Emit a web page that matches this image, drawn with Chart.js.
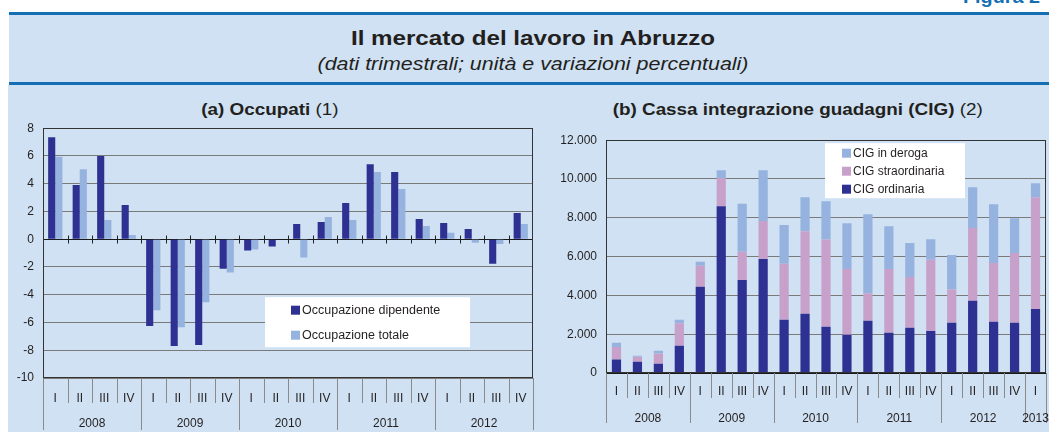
<!DOCTYPE html>
<html>
<head>
<meta charset="utf-8">
<script src="https://cdn.jsdelivr.net/npm/chart.js@4.4.1/dist/chart.umd.min.js"></script>
<style>
    body { margin: 0; width: 1049px; height: 432px; overflow: hidden; background: #fff;
           font-family: "Liberation Sans", Arial, sans-serif; color: #231f20; position: relative; }
    .rule { position: absolute; left: 9px; right: 0; height: 3px; background: #1470b2; }
    .band { position: absolute; background: #cfe1f2; }
    .figura { position: absolute; left: 963px; top: -13px; font-weight: bold; font-size: 18px; color: #1470b2;
              transform: scaleX(1.1); transform-origin: left top; white-space: nowrap; }
    .title { position: absolute; left: 17px; right: 0; text-align: center; }
    .panel-title { position: absolute; top: 99px; height: 22px; line-height: 22px; text-align: center; font-size: 17px; }
    .panel-title span { display: inline-block; transform: scaleX(1.11); }
    canvas { position: absolute; }
</style>
</head>
<body>
<div class="figura">Figura 2</div>
<div class="rule" style="top:12px"></div>
<div class="band" style="left:9px;right:0;top:15px;height:67px"></div>
<div class="rule" style="top:82px"></div>
<div class="band" style="left:8px;right:0;top:85px;bottom:0"></div>
<div class="title" style="top:26px;font-size:21px;font-weight:bold;transform:scaleX(1.15)">Il mercato del lavoro in Abruzzo</div>
<div class="title" style="top:54px;font-size:18px;font-style:italic;transform:scaleX(1.19)">(dati trimestrali; unità e variazioni percentuali)</div>
<div class="panel-title" style="left:8px;width:524px"><span><b>(a) Occupati</b> (1)</span></div>
<div class="panel-title" style="left:531px;width:534px"><span><b>(b) Cassa integrazione guadagni (CIG)</b> (2)</span></div>
<canvas id="occupatiChart" width="536" height="320" style="left:0;top:112px"></canvas>
<canvas id="cigChart" width="518" height="308" style="left:531px;top:124px"></canvas>
<script>
// (a) Occupati - variazioni percentuali
const quarterLabelsA = ['I', 'II', 'III', 'IV', 'I', 'II', 'III', 'IV', 'I', 'II', 'III', 'IV',
    'I', 'II', 'III', 'IV', 'I', 'II', 'III', 'IV'];
const yearLabelsA = ['2008', '2009', '2010', '2011', '2012'];
const occDipendente = [7.35, 3.9, 6.0, 2.47, -6.26, -7.69, -7.62, -2.13, -0.81, -0.53, 1.1, 1.25,
    2.61, 5.41, 4.84, 1.46, 1.17, 0.74, -1.77, 1.89];
const occTotale = [5.94, 5.05, 1.39, 0.31, -5.12, -6.34, -4.55, -2.4, -0.74, 0, -1.32, 1.6,
    1.39, 4.84, 3.62, 0.96, 0.46, -0.26, -0.34, 1.1];

// (b) CIG - unità
const quarterLabelsB = [...quarterLabelsA, 'I'];
const yearLabelsB = [...yearLabelsA, '2013'];
const cigOrdinaria = [690, 580, 480, 1410, 4440, 8600, 4800, 5880, 2740, 3050, 2380, 1970,
    2690, 2070, 2330, 2170, 2590, 3720, 2640, 2590, 3300];
const cigStraordinaria = [650, 260, 530, 1160, 1090, 1450, 1450, 1950, 2890, 4260, 4500, 3390,
    1420, 3290, 2620, 3670, 1710, 3760, 3030, 3590, 5760];
const cigDeroga = [220, 50, 140, 170, 200, 400, 2470, 2620, 2000, 1750, 1970, 2360,
    4070, 2210, 1750, 1060, 1780, 2090, 3030, 1800, 720];

const NAVY = '#2e3192';
const SKY = '#95b3de';
const PINK = '#c8a1cb';
const GRID = '#7a7a7a';

Chart.defaults.font.family = '"Liberation Sans", Arial, sans-serif';
Chart.defaults.font.size = 12;
Chart.defaults.color = '#231f20';

const fmtThousands = v => String(v).replace(/\B(?=(\d{3})+(?!\d))/g, '.');

// frame, axis boxes, year row and in-plot legend
const panelDecor = {
    id: 'panelDecor',
    afterDatasetsDraw(chart, args, opts) {
        const { ctx, chartArea: a, scales: { x, y } } = chart;
        const n = chart.data.labels.length;
        const cw = (a.right - a.left) / n;
        const edge = i => Math.round(x.getPixelForValue(Math.min(i, n - 1)) + (i >= n ? cw / 2 : -cw / 2)) + 0.5;
        ctx.save();
        ctx.lineWidth = 1;

        if (opts.zeroTicks) {
            const y0 = Math.round(y.getPixelForValue(0)) + 0.5;
            ctx.strokeStyle = '#222';
            ctx.beginPath();
            for (let i = 1; i < n; i++) {
                ctx.moveTo(edge(i), y0 - 4);
                ctx.lineTo(edge(i), y0 + 4);
            }
            ctx.stroke();
        }

        // legend box
        const lg = opts.legend;
        const bx = a.left + lg.x, by = a.top + lg.y;
        ctx.fillStyle = '#fff';
        ctx.fillRect(bx, by, lg.w, lg.h);
        ctx.font = lg.size + 'px "Liberation Sans", Arial, sans-serif';
        ctx.textBaseline = 'middle';
        ctx.textAlign = 'left';
        lg.order.forEach((di, k) => {
            const ds = chart.data.datasets[di];
            const cy = by + lg.first + k * lg.step;
            ctx.fillStyle = ds.backgroundColor;
            ctx.fillRect(bx + lg.sq, cy - 4.5, 9, 9);
            ctx.fillStyle = '#231f20';
            ctx.fillText(ds.label, bx + lg.sq + 11, cy + 0.5);
        });

        // plot frame
        ctx.strokeStyle = '#333';
        ctx.strokeRect(Math.round(a.left) + 0.5, Math.round(a.top) + 0.5,
            Math.round(a.right - a.left) - 1, Math.round(a.bottom - a.top) - 1);

        // separators under the plot
        ctx.strokeStyle = '#8a8a8a';
        ctx.beginPath();
        for (let i = 0; i <= n; i++) {
            const len = (i % 4 === 0 || i === n) ? opts.yearLen : opts.quarterLen;
            ctx.moveTo(edge(i), a.bottom);
            ctx.lineTo(edge(i), a.bottom + len);
        }
        ctx.stroke();

        // year row
        ctx.fillStyle = '#231f20';
        ctx.font = '12px "Liberation Sans", Arial, sans-serif';
        ctx.textAlign = 'center';
        opts.years.forEach((yr, k) => {
            const s = 4 * k, e = Math.min(s + 4, n) - 1;
            const cx = (x.getPixelForValue(s) + x.getPixelForValue(e)) / 2;
            ctx.fillText(yr, cx, a.bottom + opts.yearY);
        });
        ctx.restore();
    }
};

const baseScales = (yWidth, xHeight, xPad) => ({
    x: {
        grid: { display: false },
        border: { display: false },
        ticks: { padding: xPad, maxRotation: 0, autoSkip: false },
        afterFit: s => { s.height = xHeight; }
    },
    y: {
        border: { display: false },
        grid: { drawTicks: false, color: c => c.tick.value === 0 ? '#1a1a1a' : GRID },
        ticks: { padding: 9 },
        afterFit: s => { s.width = yWidth; }
    }
});

const initOccupatiChart = () => {
    const scales = baseScales(43, 54, 5);
    Object.assign(scales.y, { min: -10, max: 8 });
    scales.y.ticks.stepSize = 2;
    new Chart(document.getElementById('occupatiChart'), {
        type: 'bar',
        data: {
            labels: quarterLabelsA,
            datasets: [
                { label: 'Occupazione dipendente', data: occDipendente, backgroundColor: NAVY },
                { label: 'Occupazione totale', data: occTotale, backgroundColor: SKY }
            ]
        },
        options: {
            responsive: false,
            devicePixelRatio: 1,
            animation: false,
            categoryPercentage: 0.58,
            barPercentage: 1,
            layout: { padding: { top: 0, right: 3, left: 0, bottom: 0 } },
            plugins: {
                legend: { display: false },
                tooltip: { enabled: false },
                panelDecor: {
                    zeroTicks: true,
                    years: yearLabelsA,
                    quarterLen: 25,
                    yearLen: 52,
                    yearY: 46,
                    legend: { x: 222, y: 169, w: 205, h: 50, sq: 26, first: 13, step: 25, size: 12.5, order: [0, 1] }
                }
            },
            scales
        },
        plugins: [panelDecor]
    });
};

const initCigChart = () => {
    const scales = baseScales(75, 59, 3);
    scales.x.stacked = true;
    Object.assign(scales.y, { min: 0, max: 12000, stacked: true });
    scales.y.ticks.stepSize = 2000;
    scales.y.ticks.callback = v => fmtThousands(v);
    new Chart(document.getElementById('cigChart'), {
        type: 'bar',
        data: {
            labels: quarterLabelsB,
            datasets: [
                { label: 'CIG ordinaria', data: cigOrdinaria, backgroundColor: NAVY },
                { label: 'CIG straordinaria', data: cigStraordinaria, backgroundColor: PINK },
                { label: 'CIG in deroga', data: cigDeroga, backgroundColor: SKY }
            ]
        },
        options: {
            responsive: false,
            devicePixelRatio: 1,
            animation: false,
            categoryPercentage: 1,
            barPercentage: 0.44,
            layout: { padding: { top: 0, right: 3, left: 0, bottom: 0 } },
            plugins: {
                legend: { display: false },
                tooltip: { enabled: false },
                panelDecor: {
                    zeroTicks: false,
                    years: yearLabelsB,
                    quarterLen: 25,
                    yearLen: 50,
                    yearY: 46,
                    legend: { x: 219, y: 3, w: 140, h: 55, sq: 17, first: 10, step: 18, size: 12, order: [2, 1, 0] }
                }
            },
            scales
        },
        plugins: [panelDecor]
    });
};

document.addEventListener('DOMContentLoaded', () => {
    initOccupatiChart();
    initCigChart();
});
</script>
</body>
</html>
